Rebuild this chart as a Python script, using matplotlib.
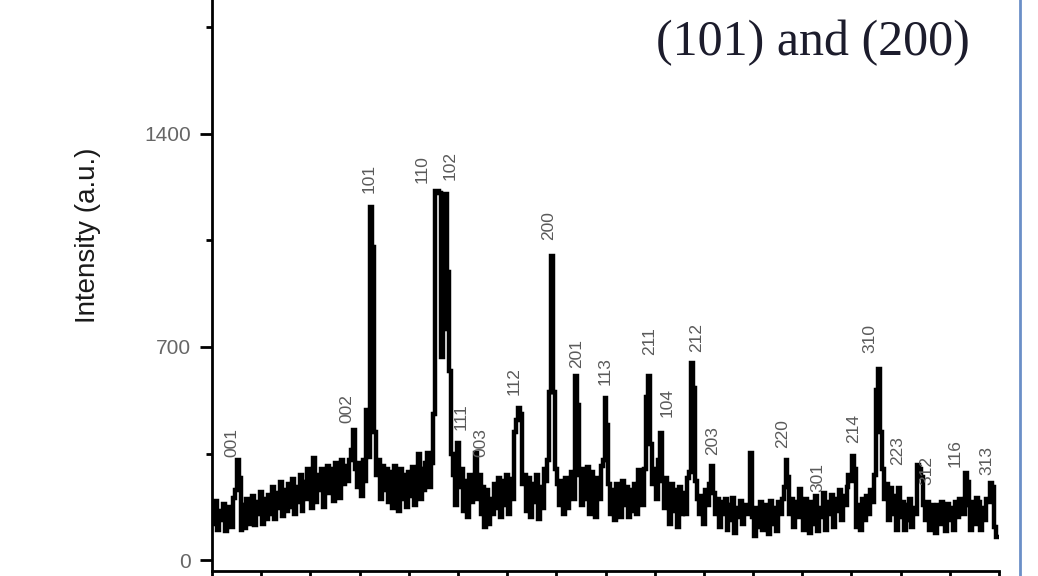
import numpy as np
import matplotlib
matplotlib.use("Agg")
import matplotlib.pyplot as plt
from matplotlib.lines import Line2D

# XRD scan, 2theta from 10.0 deg in 0.2 deg steps (one row = 2 deg)
theta_start = 10.0
theta_step = 0.2
intensity = [
    170, 120, 195, 100, 160, 130, 185, 95, 150, 175,
    110, 205, 230, 329, 270, 100, 180, 105, 200, 120,
    140, 210, 115, 190, 150, 225, 120, 200, 135, 215,
    150, 240, 135, 220, 170, 255, 145, 230, 160, 250,
    175, 265, 150, 240, 190, 280, 160, 255, 200, 300,
    210, 170, 335, 190, 280, 230, 300, 175, 265, 310,
    220, 300, 195, 320, 240, 205, 330, 250, 310, 260,
    330, 360, 427, 300, 240, 320, 210, 330, 260, 493,
    340, 1160, 1029, 420, 280, 330, 200, 310, 230, 300,
    190, 290, 170, 310, 220, 160, 300, 200, 280, 175,
    290, 210, 305, 180, 270, 350, 200, 300, 230, 320,
    351, 240, 320, 480, 1213, 1213, 1205, 667, 760, 1202,
    946, 620, 350, 280, 180, 384, 240, 300, 160, 260,
    140, 280, 190, 270, 351, 200, 280, 150, 240, 110,
    230, 120, 200, 150, 250, 170, 270, 140, 260, 180,
    280, 150, 265, 200, 420, 460, 500, 480, 250, 280,
    160, 270, 140, 250, 190, 280, 135, 240, 170, 300,
    260, 330, 552, 1000, 552, 300, 250, 180, 260, 150,
    270, 170, 250, 290, 200, 605, 509, 280, 180, 300,
    200, 306, 150, 290, 250, 140, 270, 200, 310, 330,
    532, 444, 250, 150, 230, 130, 250, 200, 140, 260,
    180, 240, 140, 230, 160, 250, 150, 296, 220, 180,
    300, 536, 605, 380, 250, 300, 200, 330, 417, 260,
    170, 270, 200, 120, 250, 160, 230, 110, 240, 150,
    220, 150, 270, 290, 648, 565, 260, 200, 150, 210,
    120, 230, 180, 250, 309, 220, 150, 200, 110, 190,
    150, 200, 100, 180, 130, 205, 90, 170, 140, 195,
    120, 180, 150, 150, 352, 140, 80, 170, 110, 190,
    100, 180, 140, 85, 195, 120, 170, 95, 190, 150,
    200, 240, 329, 273, 150, 200, 110, 190, 140, 233,
    180, 100, 200, 130, 90, 190, 120, 210, 95, 170,
    140, 220, 100, 190, 150, 215, 110, 200, 160, 230,
    130, 210, 180, 240, 280, 260, 342, 300, 110, 180,
    100, 200, 130, 210, 150, 230, 190, 280, 560, 627,
    420, 300, 200, 250, 130, 236, 150, 210, 100, 236,
    140, 190, 100, 180, 130, 200, 110, 170, 150, 312,
    300, 273, 180, 130, 190, 100, 180, 140, 90, 180,
    120, 190, 150, 95, 185, 130, 170, 100, 190, 140,
    200, 150, 150, 286, 257, 180, 100, 190, 120, 204,
    190, 100, 170, 130, 200, 190, 253, 240, 110, 76,
]

hkl_labels = ["001", "002", "101", "110", "102", "111", "003", "112", "200", "201", "113", "211",
              "104", "212", "203", "220", "301", "214", "310", "223", "312", "116", "313"]
hkl_theta = [12.0, 23.7, 26.0, 31.4, 34.2, 35.3, 37.3, 40.7, 44.2, 47.1, 50.0, 54.5,
             56.3, 59.3, 60.9, 68.0, 71.6, 75.2, 76.9, 79.7, 82.7, 85.5, 88.8]
hkl_y = [338, 450, 1206, 1239, 1249, 427, 338, 542, 1052, 631, 575, 674,
         470, 684, 345, 368, 223, 384, 680, 312, 246, 306, 279]

W, H = 1038, 576
fig = plt.figure(figsize=(W / 100, H / 100), dpi=100)
ax = fig.add_axes([212 / W, 5 / H, 787 / W, 571 / H])

two_theta = theta_start + theta_step * np.arange(len(intensity))
ax.plot(two_theta, intensity, color="black", lw=3.2, drawstyle="steps-mid",
        solid_joinstyle="miter")

for lab, t, y in zip(hkl_labels, hkl_theta, hkl_y):
    ax.text(t, y, lab, rotation=90, ha="center", va="bottom", fontsize=12.5,
            color="#5a5a5a", family="Liberation Sans")

ax.set_xlim(10, 90)
ax.set_ylim(-36, 1840)
ax.set_xticks(np.arange(10, 91, 10))
ax.set_xticks(np.arange(15, 90, 10), minor=True)
ax.set_yticks([0, 700, 1400])
ax.set_yticks([350, 1050, 1750], minor=True)
ax.tick_params(axis="x", which="both", direction="out", length=8, width=2, labelbottom=False)
ax.tick_params(axis="y", which="major", direction="out", length=9, width=2,
               labelsize=15, labelcolor="#666666", pad=6)
ax.tick_params(axis="y", which="minor", direction="out", length=4, width=2)
for lab in ax.get_yticklabels():
    lab.set_family("Liberation Sans")
for side in ["top", "right"]:
    ax.spines[side].set_visible(False)
for side in ["left", "bottom"]:
    ax.spines[side].set_linewidth(2)
ax.patch.set_alpha(0)

fig.text(88 / W, 1 - 235 / H, "Intensity (a.u.)", rotation=90, ha="center", va="center",
         fontsize=20, color="#1a1a1a", family="Liberation Sans")
fig.text(813 / W, 1 - 43 / H, "(101) and (200)", ha="center", va="center",
         fontsize=36, color="#1c1c2c", family="Liberation Serif")
fig.add_artist(Line2D([1020 / W, 1020 / W], [0, 1], color="#6b8fc7", lw=2))

fig.savefig("out.png", dpi=100)
